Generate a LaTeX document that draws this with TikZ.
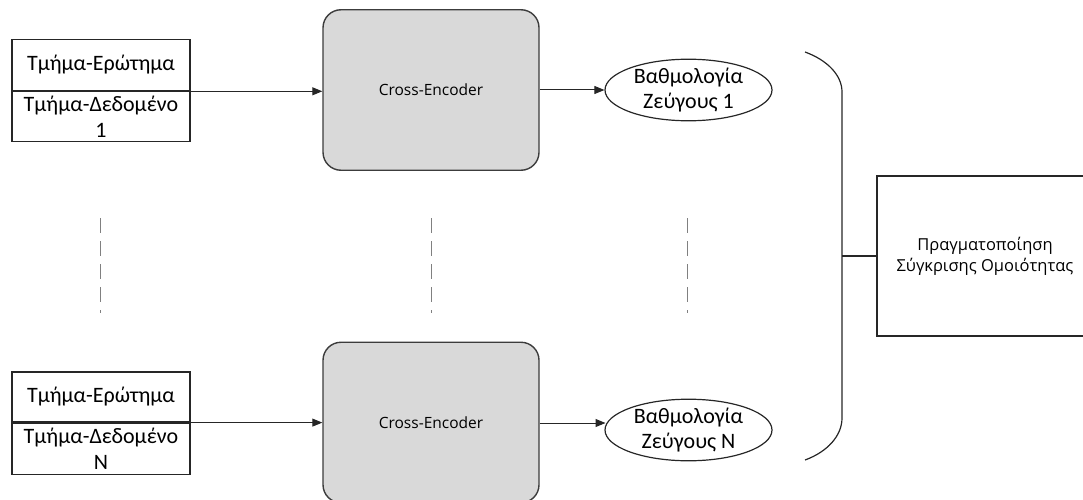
\documentclass[tikz,border=0pt]{standalone}
\usepackage{fontspec}
\setmainfont{Carlito}
\newfontfamily\uifont{Open Sans}
\usetikzlibrary{arrows.meta,shapes.geometric}
\definecolor{linec}{HTML}{262626}
\definecolor{encfill}{HTML}{D9D9D9}
\definecolor{dashc}{HTML}{808080}
\tikzset{
  pairbox/.style={draw=linec,line width=1.2pt,minimum width=178pt,inner sep=0pt,
    align=center,font=\fontsize{22}{26}\selectfont},
  encbox/.style={draw=linec!90,fill=encfill,line width=1.4pt,rounded corners=18pt,
    minimum width=216pt,minimum height=160.5pt,inner sep=0pt,
    font=\uifont\fontsize{15.5}{18}\selectfont},
  scorenode/.style={draw=linec,line width=1.2pt,ellipse,minimum width=167pt,
    minimum height=57pt,inner sep=0pt,align=center,font=\fontsize{22}{24.5}\selectfont},
  cmpbox/.style={draw=linec,line width=1.2pt,minimum width=216pt,minimum height=160pt,
    inner sep=0pt,align=center,font=\uifont\fontsize{16.5}{21}\selectfont},
  conn/.style={draw=linec,line width=1pt,-{Triangle[length=10pt,width=8pt]}},
  plainline/.style={draw=linec,line width=1.2pt},
  dotsline/.style={draw=dashc,line width=1.2pt,dash pattern=on 15pt off 8pt}
}
\begin{document}
\begin{tikzpicture}[x=1pt,y=-1pt]
\useasboundingbox (0,0) rectangle (1083,500);

% first pair
\node[pairbox,minimum height=51.4pt] (q1) at (101,65) {Τμήμα-Ερώτημα};
\node[pairbox,minimum height=49.3pt,anchor=north] (d1) at (q1.south) {Τμήμα-Δεδομένο\\1};
\node[encbox] (ce1) at (431,90) {Cross-Encoder};
\node[scorenode] (sc1) at (688.5,90) {Βαθμολογία\\Ζεύγους 1};

% last pair
\node[pairbox,minimum height=50pt] (q2) at (101,397) {Τμήμα-Ερώτημα};
\node[pairbox,minimum height=51pt,anchor=north] (d2) at (q2.south) {Τμήμα-Δεδομένο\\N};
\node[encbox] (ce2) at (431,422.5) {Cross-Encoder};
\node[scorenode,minimum height=59pt] (sc2) at (688.5,430) {Βαθμολογία\\Ζεύγους N};

% final comparison
\node[cmpbox] (cmp) at (985,256) {Πραγματοποίηση\\Σύγκρισης Ομοιότητας};

% arrows
\draw[conn] (d1.north east) -- (d1.north east -| ce1.west);
\draw[conn] (ce1.east) -- (sc1.west);
\draw[conn] (d2.north east) -- (d2.north east -| ce2.west);
\draw[conn] (ce2.east |- 0,423) -- (605.5,423);

% brace collecting the scores
\coordinate (btop) at (805,52);
\coordinate (bup) at (842,92);
\coordinate (blow) at (842,418);
\coordinate (bbot) at (805,460);
\coordinate (bmid) at (842,256);
\draw[plainline] (btop) .. controls (827,60) and (842,75) .. (bup) -- (blow)
  .. controls (842,436) and (827,452) .. (bbot);
\draw[plainline] (bmid) -- (cmp.west);

% ellipsis columns
\coordinate (v1a) at (100.7,218); \coordinate (v1b) at (100.7,313);
\coordinate (v2a) at (431.5,218); \coordinate (v2b) at (431.5,313);
\coordinate (v3a) at (687.5,218); \coordinate (v3b) at (687.5,313);
\draw[dotsline] (v1a) -- (v1b);
\draw[dotsline] (v2a) -- (v2b);
\draw[dotsline] (v3a) -- (v3b);
\end{tikzpicture}
\end{document}
